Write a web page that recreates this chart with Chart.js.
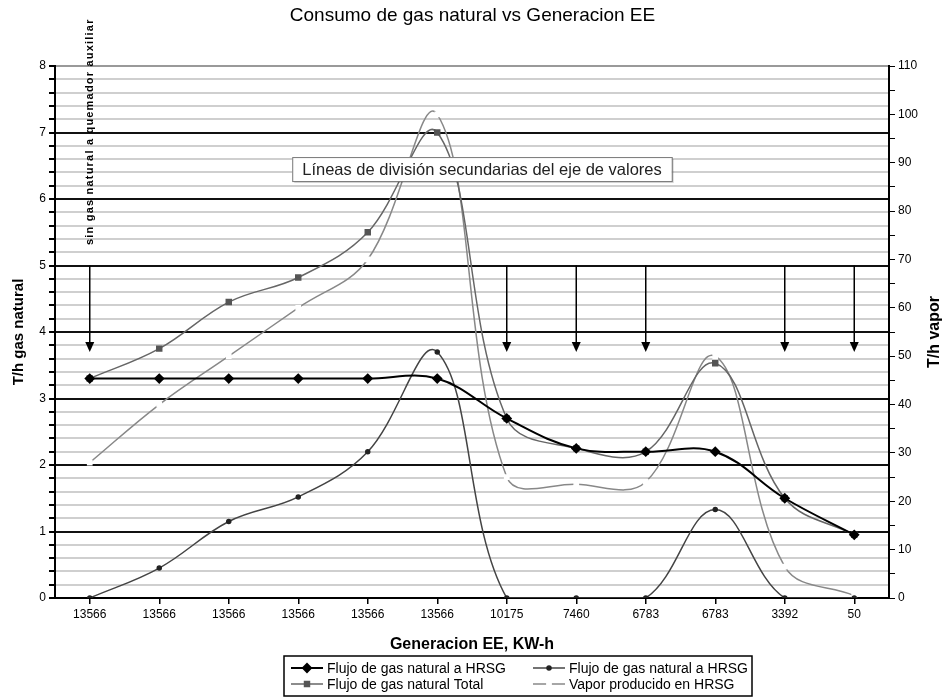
<!DOCTYPE html>
<html>
<head>
<meta charset="utf-8">
<script src="https://cdn.jsdelivr.net/npm/chart.js@4/dist/chart.umd.min.js"></script>
<style>
html, body { margin: 0; padding: 0; background: #fff; }
#wrap { width: 945px; height: 698px; }
</style>
</head>
<body>
<div id="wrap"><canvas id="graphCanvas" width="945" height="698"></canvas></div>
<script>
// Generacion electrica (kW-h) en cada punto de operacion
const GENERATION = ['13566', '13566', '13566', '13566', '13566', '13566', '10175', '7460', '6783', '6783', '3392', '50'];

// T/h gas natural
const GAS_HRSG = [3.3, 3.3, 3.3, 3.3, 3.3, 3.3, 2.7, 2.25, 2.2, 2.2, 1.5, 0.95];
const GAS_AUX = [0, 0.45, 1.15, 1.52, 2.2, 3.7, 0, 0, 0, 1.33, 0, 0];
const GAS_TOTAL = [3.3, 3.75, 4.45, 4.82, 5.5, 7.0, 2.7, 2.25, 2.2, 3.53, 1.5, 0.95];

// T/h vapor
const STEAM_HRSG = [28, 40, 50, 60, 70, 100, 25, 23.5, 24, 50, 6.5, 0.5];

// puntos sin quemador auxiliar (flechas), en T/h gas natural
const NO_AUX_POINTS = [0, 6, 7, 8, 10, 11];
const ARROW_FROM = 5;
const ARROW_TO = 3.7;

const NOTE_TEXT = 'sin gas natural a quemador auxiliar';
const CALLOUT_TEXT = 'Líneas de división secundarias del eje de valores';

const FONT = "'Liberation Sans', Arial, sans-serif";
Chart.defaults.font.family = FONT;
Chart.defaults.color = '#000';

const isWhole = v => Math.abs(v - Math.round(v)) < 1e-6;

const extras = {
    id: 'extras',
    afterDatasetsDraw(chart) {
        const {ctx, scales: {x, y}} = chart;
        ctx.save();

        // flechas
        ctx.strokeStyle = '#000';
        ctx.fillStyle = '#000';
        ctx.lineWidth = 1.5;
        NO_AUX_POINTS.forEach(i => {
            const px = x.getPixelForValue(i);
            const y0 = y.getPixelForValue(ARROW_FROM);
            const y1 = y.getPixelForValue(ARROW_TO);
            ctx.beginPath();
            ctx.moveTo(px, y0);
            ctx.lineTo(px, y1 - 8);
            ctx.stroke();
            ctx.beginPath();
            ctx.moveTo(px - 4.5, y1 - 10);
            ctx.lineTo(px + 4.5, y1 - 10);
            ctx.lineTo(px, y1);
            ctx.closePath();
            ctx.fill();
        });

        // texto vertical sobre el primer punto
        ctx.save();
        ctx.translate(x.getPixelForValue(0), 245);
        ctx.rotate(-Math.PI / 2);
        ctx.font = 'bold 11px ' + FONT;
        ctx.letterSpacing = '1.2px';
        ctx.textAlign = 'left';
        ctx.textBaseline = 'middle';
        ctx.fillText(NOTE_TEXT, 0, 0, 230);
        ctx.restore();

        // recuadro de ayuda
        ctx.font = '16.5px ' + FONT;
        const tw = ctx.measureText(CALLOUT_TEXT).width;
        const cx = (x.getPixelForValue(5) + x.getPixelForValue(6)) / 2 + 10;
        const cy = y.getPixelForValue(6.45);
        const bw = tw + 20, bh = 24;
        ctx.fillStyle = 'rgba(0,0,0,0.15)';
        ctx.fillRect(cx - bw / 2 + 2, cy - bh / 2 + 2, bw, bh);
        ctx.fillStyle = '#fff';
        ctx.fillRect(cx - bw / 2, cy - bh / 2, bw, bh);
        ctx.strokeStyle = '#777';
        ctx.lineWidth = 1;
        ctx.strokeRect(cx - bw / 2 + 0.5, cy - bh / 2 + 0.5, bw, bh);
        ctx.fillStyle = '#222';
        ctx.textAlign = 'center';
        ctx.textBaseline = 'middle';
        ctx.fillText(CALLOUT_TEXT, cx, cy + 1);

        ctx.restore();
    },
    afterDraw(chart) {
        const {ctx, scales: {y2}} = chart;
        ctx.save();

        // titulo del eje derecho
        ctx.save();
        ctx.translate(y2.right - 10, (y2.top + y2.bottom) / 2);
        ctx.rotate(-Math.PI / 2);
        ctx.font = 'bold 16px ' + FONT;
        ctx.textAlign = 'center';
        ctx.textBaseline = 'middle';
        ctx.fillText('T/h vapor', 0, 0);
        ctx.restore();

        // leyenda en dos columnas
        const left = 284, top = 656, w = 468, h = 40;
        ctx.fillStyle = '#fff';
        ctx.fillRect(left, top, w, h);
        ctx.strokeStyle = '#000';
        ctx.lineWidth = 1.5;
        ctx.strokeRect(left, top, w, h);

        ctx.font = '14px ' + FONT;
        ctx.textBaseline = 'middle';
        ctx.textAlign = 'left';
        const slots = [[0, 0], [1, 0], [0, 1], [1, 1]];
        chart.data.datasets.forEach((ds, i) => {
            const [col, row] = slots[i];
            const sx = left + 7 + col * 242;
            const sy = top + 12 + row * 16;
            ctx.strokeStyle = ds.borderColor;
            ctx.lineWidth = ds.borderWidth;
            ctx.beginPath();
            ctx.moveTo(sx, sy);
            ctx.lineTo(sx + 32, sy);
            ctx.stroke();
            ctx.fillStyle = ds.pointBackgroundColor;
            ctx.strokeStyle = ds.pointBorderColor;
            Chart.helpers.drawPoint(ctx, {
                pointStyle: ds.pointStyle,
                radius: ds.pointRadius,
                rotation: 0,
                borderWidth: 1
            }, sx + 16, sy);
            ctx.fillStyle = '#000';
            ctx.fillText(ds.label, sx + 36, sy + 1);
        });

        ctx.restore();
    }
};

new Chart(document.getElementById('graphCanvas'), {
    type: 'line',
    data: {
        labels: GENERATION,
        datasets: [
            {
                label: 'Flujo de gas natural a HRSG',
                data: GAS_HRSG,
                yAxisID: 'y',
                borderColor: '#000',
                borderWidth: 2,
                pointStyle: 'rectRot',
                pointRadius: 4,
                pointBackgroundColor: '#000',
                pointBorderColor: '#000'
            },
            {
                label: 'Flujo de gas natural a HRSG',
                data: GAS_AUX,
                yAxisID: 'y',
                borderColor: '#444',
                borderWidth: 1.5,
                pointStyle: 'circle',
                pointRadius: 2,
                pointBackgroundColor: '#222',
                pointBorderColor: '#222'
            },
            {
                label: 'Flujo de gas natural Total',
                data: GAS_TOTAL,
                yAxisID: 'y',
                borderColor: '#666',
                borderWidth: 1.5,
                pointStyle: 'rect',
                pointRadius: 3.5,
                pointBackgroundColor: '#555',
                pointBorderColor: '#555'
            },
            {
                label: 'Vapor producido en HRSG',
                data: STEAM_HRSG,
                yAxisID: 'y2',
                borderColor: '#888',
                borderWidth: 1.5,
                pointStyle: 'rect',
                pointRadius: 3,
                pointBackgroundColor: '#fff',
                pointBorderColor: '#fff'
            }
        ]
    },
    options: {
        responsive: false,
        animation: false,
        devicePixelRatio: 1,
        layout: { padding: 0 },
        elements: {
            line: { tension: 0.38 },
            point: { borderWidth: 0 }
        },
        scales: {
            x: {
                offset: true,
                grid: {
                    drawOnChartArea: false,
                    drawTicks: true,
                    tickLength: 6,
                    tickColor: '#000',
                    lineWidth: 1.5
                },
                border: { color: '#000', width: 2 },
                ticks: { font: { size: 12 }, padding: 3, maxRotation: 0, autoSkip: false },
                title: {
                    display: true,
                    text: 'Generacion EE, KW-h',
                    font: { size: 16, weight: 'bold' },
                    padding: { top: 0, bottom: 44 }
                },
                afterFit(scale) { scale.height = 100; }
            },
            y: {
                position: 'left',
                min: 0,
                max: 8,
                ticks: {
                    stepSize: 0.2,
                    autoSkip: false,
                    padding: 3,
                    font: { size: 12 },
                    callback: v => isWhole(v) ? Math.round(v) : ''
                },
                grid: {
                    color: c => {
                        const v = c.tick.value;
                        if (isWhole(v)) return Math.round(v) === 8 ? '#999' : '#111';
                        return '#cfcfcf';
                    },
                    lineWidth: 2,
                    tickColor: '#000',
                    tickLength: 6
                },
                border: { color: '#000', width: 2 },
                title: {
                    display: true,
                    text: 'T/h gas natural',
                    font: { size: 15, weight: 'bold' },
                    padding: { top: 10, bottom: 0 }
                },
                afterFit(scale) { scale.width = 55; }
            },
            y2: {
                position: 'right',
                min: 0,
                max: 110,
                ticks: {
                    stepSize: 5,
                    autoSkip: false,
                    padding: 3,
                    font: { size: 12 },
                    callback: v => v % 10 === 0 ? v : ''
                },
                grid: {
                    drawOnChartArea: false,
                    tickColor: '#000',
                    tickLength: 6
                },
                border: { color: '#000', width: 2 },
                afterFit(scale) { scale.width = 56; }
            }
        },
        plugins: {
            legend: { display: false },
            tooltip: { enabled: false },
            title: {
                display: true,
                text: 'Consumo de gas natural vs Generacion EE',
                font: { size: 19, weight: 'normal' },
                color: '#000',
                padding: { top: 4, bottom: 39.2 }
            }
        }
    },
    plugins: [extras]
});
</script>
</body>
</html>
